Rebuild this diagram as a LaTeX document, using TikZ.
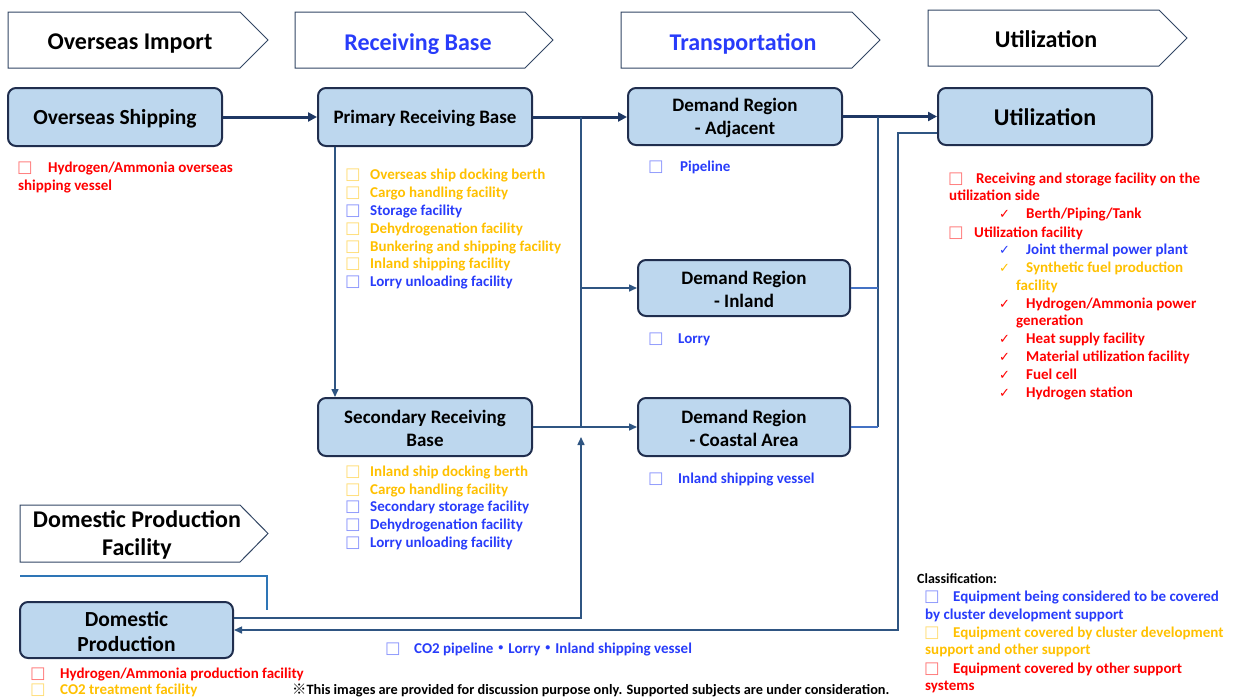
\documentclass[tikz,border=0pt]{standalone}
\usepackage{fontspec}
\setmainfont{Carlito}
\newfontfamily\djv{DejaVu Sans}
\newfontfamily\cjkf{Noto Sans CJK JP}
\usetikzlibrary{arrows.meta}
\definecolor{cred}{RGB}{255,0,0}
\definecolor{cyel}{RGB}{255,192,0}
\definecolor{cblu}{RGB}{40,60,250}
\definecolor{nodefill}{RGB}{189,215,238}
\definecolor{nodeline}{RGB}{32,46,78}
\definecolor{thickc}{RGB}{31,56,100}
\definecolor{thinc}{RGB}{47,85,130}
\definecolor{lightc}{RGB}{68,114,196}
\definecolor{hdrline}{RGB}{50,70,100}
\definecolor{skyc}{RGB}{46,117,182}
\newcounter{lc}
\newcommand\bx[1]{{\djv\fontsize{16.5}{16.5}\selectfont\color{#1!55}□}}
\newcommand\ck[1]{{\djv\fontsize{13}{13}\selectfont\color{#1}✓}}
\newcommand\tl[4]{\stepcounter{lc}\node[lst,text=#3] (L\arabic{lc}) at (#1,#2+5) {#4};}
\newcommand\hdr[5]{\draw[hdr] (#1,#3) -- (#2-28,#3) -- (#2,{(#3+#4)/2}) -- (#2-28,#4) -- (#1,#4) -- cycle;}
\tikzset{
  lst/.style={anchor=base west, inner sep=0pt, font=\bfseries\fontsize{15}{18}\selectfont},
  hdr/.style={draw=hdrline, line width=1pt, fill=white},
  htxt/.style={inner sep=0pt, font=\bfseries\fontsize{24}{29}\selectfont},
  box/.style={draw=nodeline, line width=2pt, fill=nodefill, rounded corners=8pt,
    minimum width=214pt, minimum height=58pt, inner sep=0pt, align=center,
    font=\bfseries\fontsize{19}{23}\selectfont},
  thk/.style={draw=thickc, line width=3pt, -{Triangle[length=9pt,width=9pt]}},
  arr/.style={draw=thinc, line width=1.5pt, -{Triangle[length=8pt,width=7pt]}},
  ln/.style={draw=thinc, line width=1.5pt},
  lnl/.style={draw=lightc, line width=1.5pt},
  sky/.style={draw=skyc, line width=1.5pt}
}
\begin{document}
\begin{tikzpicture}[x=1pt,y=-1pt]
\useasboundingbox (0,0) rectangle (1238,697);
% headers
\hdr{8}{268}{12}{68}{}
\hdr{295}{553}{12}{68}{}
\hdr{621}{880}{12}{68}{}
\hdr{928}{1187}{10}{66}{}
\hdr{20}{268}{505}{562}{}
\node[htxt] (h1) at (130,44) {Overseas Import};
\node[htxt,text=cblu] (h2) at (418,44) {Receiving Base};
\node[htxt,text=cblu] (h3) at (743,44) {Transportation};
\node[htxt] (h4) at (1046,39) {Utilization};
\node[htxt,align=center,font=\bfseries\fontsize{24}{28}\selectfont] (h5) at (137,535) {Domestic Production\\Facility};
% nodes
\node[box,font=\bfseries\fontsize{21.5}{25}\selectfont] (os) at (115,117) {\rule{0pt}{19pt}Overseas Shipping};
\node[box] (prb) at (425,117) {\rule{0pt}{17pt}Primary Receiving Base};
\node[box,minimum height=57pt] (da) at (735,116.5) {\rule{0pt}{17pt}Demand Region\\- Adjacent};
\node[box,minimum height=57pt,font=\bfseries\fontsize{24}{29}\selectfont] (ut) at (1045,116.5) {\rule{0pt}{18pt}Utilization};
\node[box,minimum width=212pt,minimum height=56pt] (di) at (744,288) {\rule{0pt}{17pt}Demand Region\\- Inland};
\node[box] (srb) at (425,427) {\rule{0pt}{17pt}Secondary Receiving\\Base};
\node[box,minimum width=212pt] (dc) at (744,427) {\rule{0pt}{17pt}Demand Region\\- Coastal Area};
\node[box,minimum width=213pt,minimum height=56pt,font=\bfseries\fontsize{21.5}{25}\selectfont] (dp) at (126.5,630) {\rule{0pt}{19pt}Domestic\\Production};
% coordinates
\coordinate (j1) at (581,117);
\coordinate (j2) at (581,427);
\coordinate (j3) at (581,288);
\coordinate (j4) at (581,618);
\coordinate (j5) at (581,437);
\coordinate (k1) at (878,117);
\coordinate (k2) at (878,427);
\coordinate (r1) at (898,133);
\coordinate (r2) at (898,630);
\coordinate (p1) at (335,146);
\coordinate (s1) at (20,576);
\coordinate (s2) at (267,576);
\coordinate (s3) at (267,610);
% connectors
\draw[thk] (os.east) -- (prb.west);
\draw[thk] (prb.east) -- (prb.east -| da.west);
\draw[thk] (da.east) -- (da.east -| ut.west);
\draw[arr] (prb.south -| p1) -- (srb.north -| p1);
\draw[ln] (j1) -- (j2);
\draw[arr] (j3) -- (di.west);
\draw[arr] (srb.east) -- (dc.west);
\draw[arr] (dp.east |- j4) -- (j4) -- (j5);
\draw[ln] (k1) -- (k2);
\draw[lnl] (di.east) -- (di.east -| k1);
\draw[lnl] (dc.east) -- (k2);
\draw[arr] (ut.west |- r1) -- (r1) -- (r2) -- (dp.east);
\draw[sky] (s1) -- (s2) -- (s3);
% overseas list
\tl{17}{167}{cred}{\makebox[31pt][l]{\bx{cred}}Hydrogen/Ammonia overseas}
\tl{18}{185}{cred}{shipping vessel}
% primary list
\tl{345}{174}{cyel}{\makebox[25pt][l]{\bx{cyel}}Overseas ship docking berth}
\tl{345}{192}{cyel}{\makebox[25pt][l]{\bx{cyel}}Cargo handling facility}
\tl{345}{210}{cblu}{\makebox[25pt][l]{\bx{cblu}}Storage facility}
\tl{345}{228}{cyel}{\makebox[25pt][l]{\bx{cyel}}Dehydrogenation facility}
\tl{345}{246}{cyel}{\makebox[25pt][l]{\bx{cyel}}Bunkering and shipping facility}
\tl{345}{263}{cyel}{\makebox[25pt][l]{\bx{cyel}}Inland shipping facility}
\tl{345}{281}{cblu}{\makebox[25pt][l]{\bx{cblu}}Lorry unloading facility}
% transport lists
\tl{648}{166}{cblu}{\makebox[32pt][l]{\bx{cblu}}Pipeline}
\tl{648}{338}{cblu}{\makebox[30pt][l]{\bx{cblu}}Lorry}
\tl{648}{478}{cblu}{\makebox[30pt][l]{\bx{cblu}}Inland shipping vessel}
% secondary list
\tl{345}{471}{cyel}{\makebox[25pt][l]{\bx{cyel}}Inland ship docking berth}
\tl{345}{489}{cyel}{\makebox[25pt][l]{\bx{cyel}}Cargo handling facility}
\tl{345}{506}{cblu}{\makebox[25pt][l]{\bx{cblu}}Secondary storage facility}
\tl{345}{524}{cblu}{\makebox[25pt][l]{\bx{cblu}}Dehydrogenation facility}
\tl{345}{542}{cblu}{\makebox[25pt][l]{\bx{cblu}}Lorry unloading facility}
% utilization list
\tl{948}{178}{cred}{\makebox[28pt][l]{\bx{cred}}Receiving and storage facility on the}
\tl{949}{195}{cred}{utilization side}
\tl{999}{213}{cred}{\makebox[27pt][l]{\ck{cred}}Berth/Piping/Tank}
\tl{948}{232}{cred}{\makebox[26pt][l]{\bx{cred}}Utilization facility}
\tl{999}{249}{cblu}{\makebox[27pt][l]{\ck{cblu}}Joint thermal power plant}
\tl{999}{267}{cyel}{\makebox[27pt][l]{\ck{cyel}}Synthetic fuel production}
\tl{1016}{285}{cyel}{facility}
\tl{999}{303}{cred}{\makebox[27pt][l]{\ck{cred}}Hydrogen/Ammonia power}
\tl{1016}{320}{cred}{generation}
\tl{999}{338}{cred}{\makebox[27pt][l]{\ck{cred}}Heat supply facility}
\tl{999}{356}{cred}{\makebox[27pt][l]{\ck{cred}}Material utilization facility}
\tl{999}{374}{cred}{\makebox[27pt][l]{\ck{cred}}Fuel cell}
\tl{999}{392}{cred}{\makebox[27pt][l]{\ck{cred}}Hydrogen station}
% domestic list
\tl{30}{673}{cred}{\makebox[30pt][l]{\bx{cred}}Hydrogen/Ammonia production facility}
\tl{30}{689}{cyel}{\makebox[30pt][l]{\bx{cyel}}CO2 treatment facility}
% CO2 transport
\tl{385}{648}{cblu}{\makebox[29pt][l]{\bx{cblu}}CO2 pipeline{\cjkf ・}Lorry{\cjkf ・}Inland shipping vessel}
% note
\node[lst,font=\bfseries\fontsize{14.3}{16}\selectfont] (note) at (292,694) {{\cjkf ※}This images are provided for discussion purpose only. Supported subjects are under consideration.};
% classification
\node[lst,font=\bfseries\fontsize{14}{17}\selectfont] (cls) at (917,583) {Classification:};
\tl{924}{596}{cblu}{\makebox[29pt][l]{\bx{cblu}}Equipment being considered to be covered}
\tl{925}{614}{cblu}{by cluster development support}
\tl{924}{632}{cyel}{\makebox[29pt][l]{\bx{cyel}}Equipment covered by cluster development}
\tl{925}{649}{cyel}{support and other support}
\tl{924}{668}{cred}{\makebox[29pt][l]{\bx{cred}}Equipment covered by other support}
\tl{925}{685}{cred}{systems}
\end{tikzpicture}
\end{document}
